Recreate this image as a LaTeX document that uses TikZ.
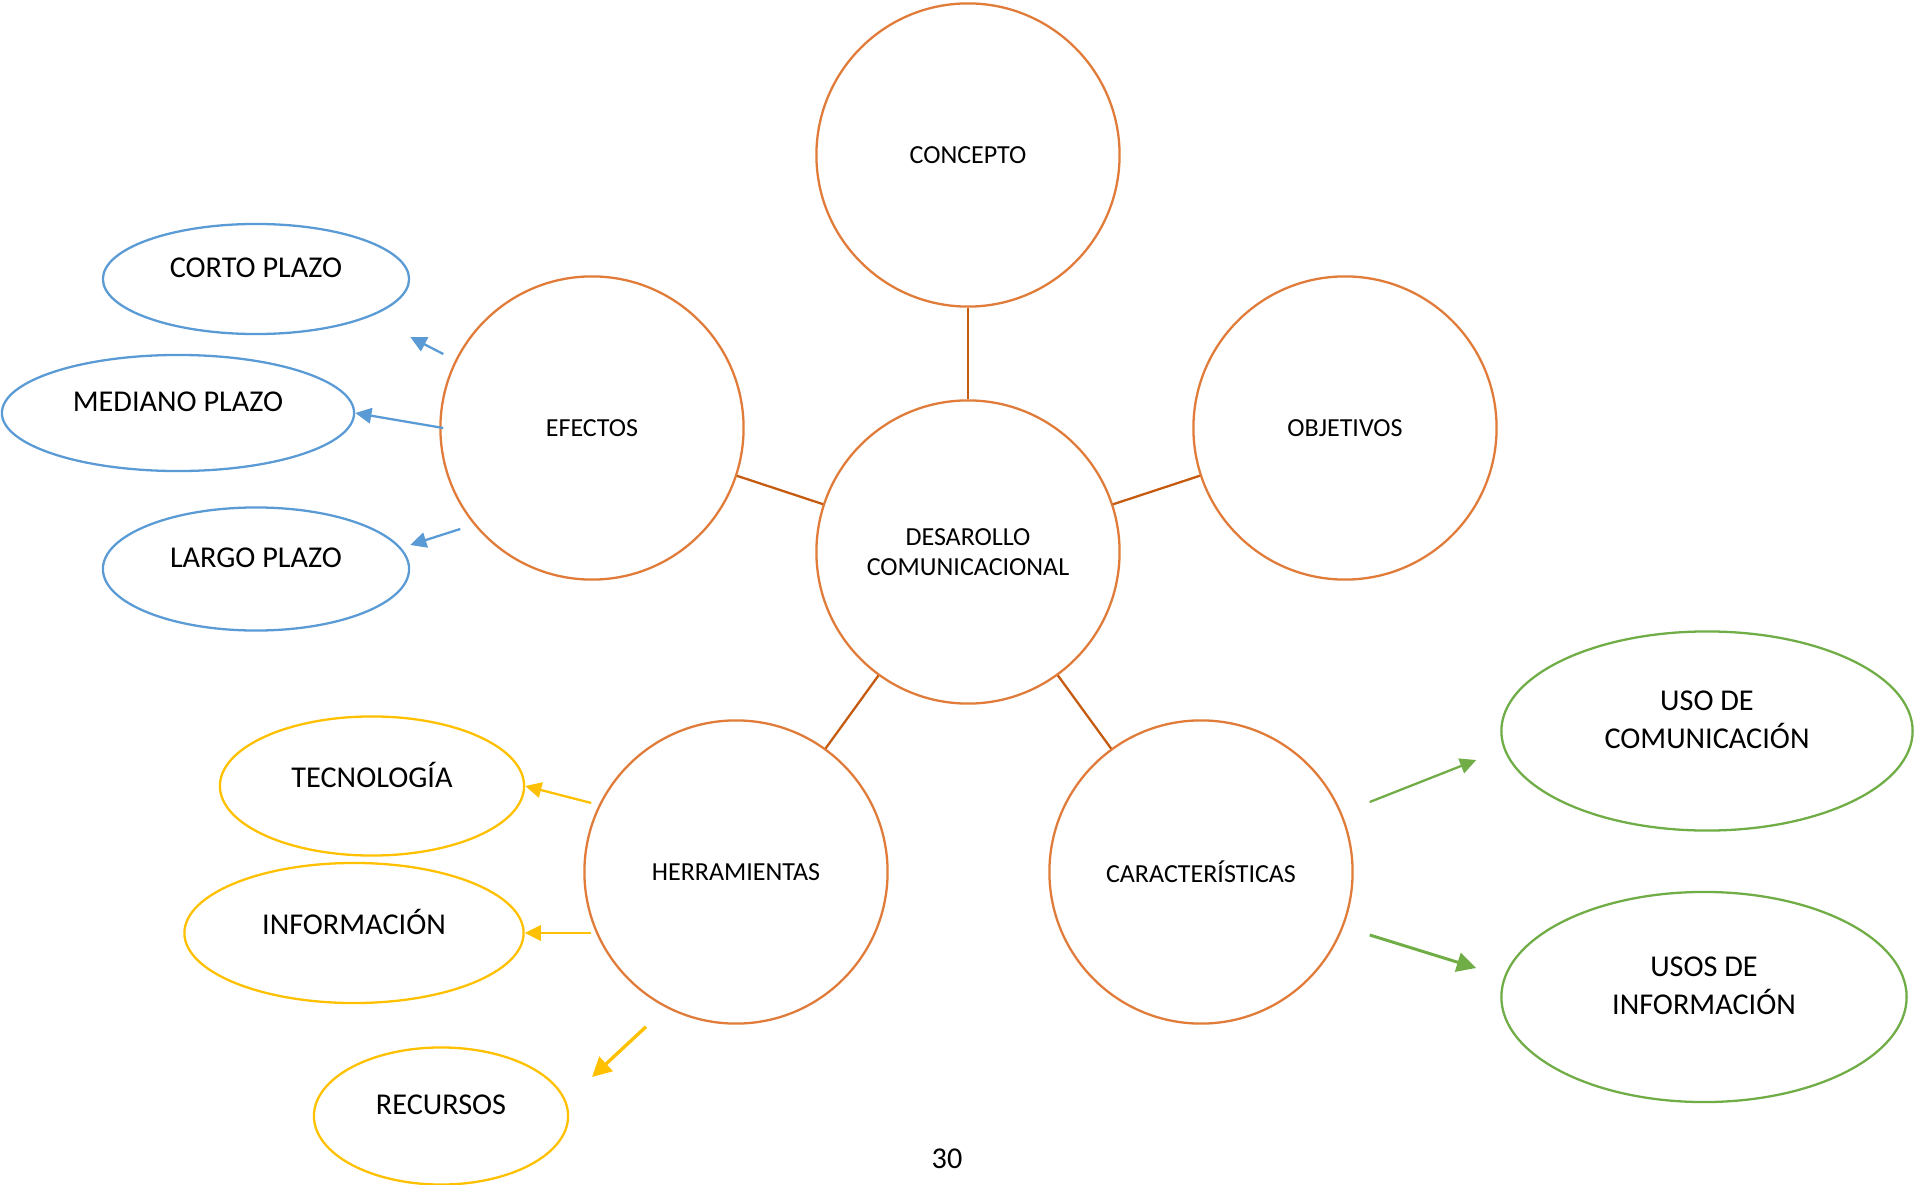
\documentclass[tikz,border=0pt]{standalone}
\usepackage{fontspec}
\setmainfont{Carlito}
\usetikzlibrary{shapes.geometric,arrows.meta}

\definecolor{naranja}{HTML}{E07B39}
\definecolor{naranjaosc}{HTML}{C55A11}
\definecolor{azul}{HTML}{5B9BD5}
\definecolor{amarillo}{HTML}{FFC000}
\definecolor{verde}{HTML}{70AD47}

\begin{document}
\begin{tikzpicture}[
        x=0.01cm, y=-0.01cm,
        main/.style = {draw=naranja, line width=0.65pt, circle, minimum size=3.03cm, inner sep=0pt, align=center, font=\fontsize{7.4}{8.5}\selectfont},
        hoja/.style = {draw=#1, line width=0.65pt, ellipse, inner sep=0pt, align=center, text depth=0.22cm, font=\fontsize{8.6}{10.8}\selectfont},
        lien/.style = {draw=naranjaosc, line width=0.65pt},
        fleche/.style = {draw=#1, fill=#1, line width=0.65pt, -{Triangle[length=4.6pt,width=4.4pt]}},
        grosse/.style = {draw=#1, fill=#1, line width=0.95pt, -{Triangle[length=5.5pt,width=5.5pt]}}
    ]
        \useasboundingbox (0,0) rectangle (1914,1185);

        % Círculos centrales
        \node[main] (des) at (968,552) {DESAROLLO\\COMUNICACIONAL};
        \node[main] (concepto) at (968,155) {CONCEPTO};
        \node[main] (efectos) at (592,428) {EFECTOS};
        \node[main] (objetivos) at (1345,428) {OBJETIVOS};
        \node[main] (herr) at (736,872) {HERRAMIENTAS};
        \node[main] (carac) at (1201,872) {CARACTERÍSTICAS};

        % Elipses
        \node[hoja=azul, minimum width=3.06cm, minimum height=1.10cm] (corto) at (256,279) {CORTO PLAZO};
        \node[hoja=azul, minimum width=3.52cm, minimum height=1.16cm] (mediano) at (178,413) {MEDIANO PLAZO};
        \node[hoja=azul, minimum width=3.06cm, minimum height=1.23cm] (largo) at (256,569) {LARGO PLAZO};
        \node[hoja=amarillo, minimum width=3.04cm, minimum height=1.39cm] (tecno) at (372,786) {TECNOLOGÍA};
        \node[hoja=amarillo, minimum width=3.39cm, minimum height=1.40cm] (info) at (354,933) {INFORMACIÓN};
        \node[hoja=amarillo, minimum width=2.54cm, minimum height=1.37cm] (recursos) at (441,1116) {RECURSOS};
        \node[hoja=verde, minimum width=4.11cm, minimum height=1.99cm] (usocom) at (1707,731) {USO DE\\COMUNICACIÓN};
        \node[hoja=verde, minimum width=4.05cm, minimum height=2.10cm] (usosinf) at (1704,997) {USOS DE\\INFORMACIÓN};

        \node[font=\fontsize{8.6}{10.8}\selectfont] (pagina) at (947,1159) {30};

        % Liens entre cercles
        \draw[lien] (concepto) -- (des);
        \draw[lien] (efectos) -- (des);
        \draw[lien] (objetivos) -- (des);
        \draw[lien] (herr) -- (des);
        \draw[lien] (carac) -- (des);

        % Flechas
        \draw[fleche=azul] ([shift={(4,-74)}]efectos.west) -- ([shift={(0,58)}]corto.east);
        \draw[fleche=azul] ([shift={(4,0)}]efectos.west) -- (mediano.east);
        \draw[fleche=azul] ([shift={(21,101)}]efectos.west) -- ([shift={(0,-24)}]largo.east);
        \draw[fleche=amarillo] ([shift={(8,-69)}]herr.west) -- (tecno.east);
        \draw[fleche=amarillo] ([shift={(8,61)}]herr.west) -- (info.east);
        \draw[grosse=amarillo] ([shift={(-90,2)}]herr.south) -- ([shift={(151,-39)}]recursos.center);
        \draw[fleche=verde] ([shift={(16,-70)}]carac.east) -- ([shift={(-24,29)}]usocom.west);
        \draw[grosse=verde, line width=0.85pt] ([shift={(16,63)}]carac.east) -- ([shift={(-24,-29)}]usosinf.west);

    \end{tikzpicture}
\end{document}
